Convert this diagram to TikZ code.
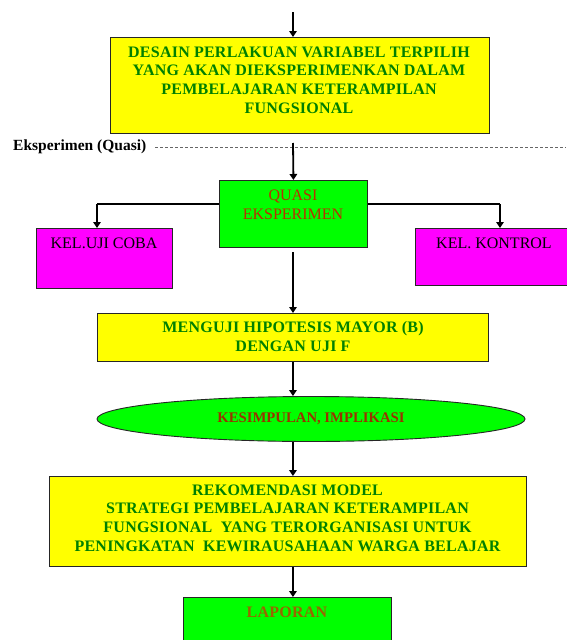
\documentclass[tikz,border=0pt]{standalone}
\usepackage{fontspec}
\setmainfont{Liberation Serif}
\usetikzlibrary{arrows.meta,shapes.geometric}

\definecolor{tgreen}{HTML}{008000}
\definecolor{boxyellow}{HTML}{FFFF00}
\definecolor{boxgreen}{HTML}{00FF00}
\definecolor{boxmagenta}{HTML}{FF00FF}
\definecolor{redtext}{HTML}{B83000}
\definecolor{browntext}{HTML}{993300}
\definecolor{olivetext}{HTML}{996600}

\tikzset{
  panel/.style={draw=black!85, line width=0.9pt, anchor=north west, inner sep=0pt},
  yellowbox/.style={panel, fill=boxyellow},
  greenbox/.style={panel, fill=boxgreen},
  pinkbox/.style={panel, fill=boxmagenta},
  boldtxt/.style={align=center, inner sep=0pt, text=tgreen,
    font=\fontsize{16}{18.6}\selectfont\bfseries\addfontfeatures{LetterSpace=1.5}},
  plaintxt/.style={align=center, inner sep=0pt,
    font=\fontsize{16}{18.6}\selectfont},
  arr/.style={line width=1.8pt, -{Triangle[length=6pt,width=7.5pt]}},
  link/.style={line width=1.3pt},
}

\begin{document}
\begin{tikzpicture}[x=1pt,y=-1pt]
\useasboundingbox (0,0) rectangle (566,640);

% boxes
\node[yellowbox, minimum width=379, minimum height=96] (desain) at (110,37) {};
\node[greenbox, minimum width=148, minimum height=67] (quasi) at (219,180) {};
\node[pinkbox, minimum width=136, minimum height=60] (ujicoba) at (36,228) {};
\node[pinkbox, minimum width=153, minimum height=57] (kontrol) at (415,228) {};
\node[yellowbox, minimum width=391, minimum height=48] (uji) at (97,313) {};
\node[ellipse, draw=black!85, line width=0.9pt, fill=boxgreen, minimum width=428,
      minimum height=45, inner sep=0pt, text=browntext,
      font=\fontsize{14.7}{17}\selectfont\bfseries] (kes) at (311,419)
      {\raisebox{3pt}{KESIMPULAN, IMPLIKASI}};
\node[yellowbox, minimum width=477, minimum height=90] (rekom) at (49,476) {};
\node[greenbox, minimum width=208, minimum height=55] (lap) at (183,597) {};

% texts
\node[boldtxt] (desaintxt) at (299,80)
  {DESAIN PERLAKUAN VARIABEL TERPILIH\\YANG AKAN DIEKSPERIMENKAN DALAM\\
   PEMBELAJARAN KETERAMPILAN\\FUNGSIONAL};
\node[plaintxt, text=redtext] (quasitxt) at (293,204.5) {QUASI\\EKSPERIMEN};
\node[plaintxt] (ujicobatxt) at (104,243) {KEL.UJI COBA};
\node[plaintxt] (kontroltxt) at (494,243) {KEL. KONTROL};
\node[boldtxt] (ujitxt) at (293,336.5) {MENGUJI HIPOTESIS MAYOR (B)\\DENGAN UJI F};
\node[boldtxt] (rekomtxt) at (287.5,518)
  {REKOMENDASI MODEL\\STRATEGI PEMBELAJARAN KETERAMPILAN\\
   FUNGSIONAL\ \ YANG TERORGANISASI UNTUK\\
   PENINGKATAN\ \ KEWIRAUSAHAAN WARGA BELAJAR};
\node[boldtxt, text=olivetext] (laptxt) at (287,612) {LAPORAN};

% stage label with dashed divider
\node[anchor=west, inner sep=0pt, font=\fontsize{15.5}{18}\selectfont\bfseries]
  (eks) at (13,147) {Eksperimen (Quasi)};
\coordinate (dashend) at (566,147);
\draw[black!60, line width=0.7pt, dash pattern=on 3pt off 2pt] ([xshift=9pt]eks.east) -- (dashend);

% connectors
\coordinate (top) at (293,12);
\draw[arr] (top) -- (top |- desain.north);

\coordinate (exstart) at (293,143);
\draw[arr] (exstart) -- (quasi.north);

\coordinate (lknee) at (97,204);
\coordinate (rknee) at (500,204);
\draw[link] (quasi.west |- lknee) -- (lknee);
\draw[arr] (lknee) -- (lknee |- ujicoba.north);
\draw[link] (quasi.east |- rknee) -- (rknee);
\draw[arr, line width=2.6pt] (rknee) -- (rknee |- kontrol.north);

\coordinate (qgap) at (293,252);
\draw[arr] (qgap) -- (qgap |- uji.north);

\draw[arr] (uji.south) -- (uji.south |- kes.north);
\draw[arr] (uji.south |- kes.south) -- (uji.south |- rekom.north);
\draw[arr] (uji.south |- rekom.south) -- (uji.south |- lap.north);
\end{tikzpicture}
\end{document}
